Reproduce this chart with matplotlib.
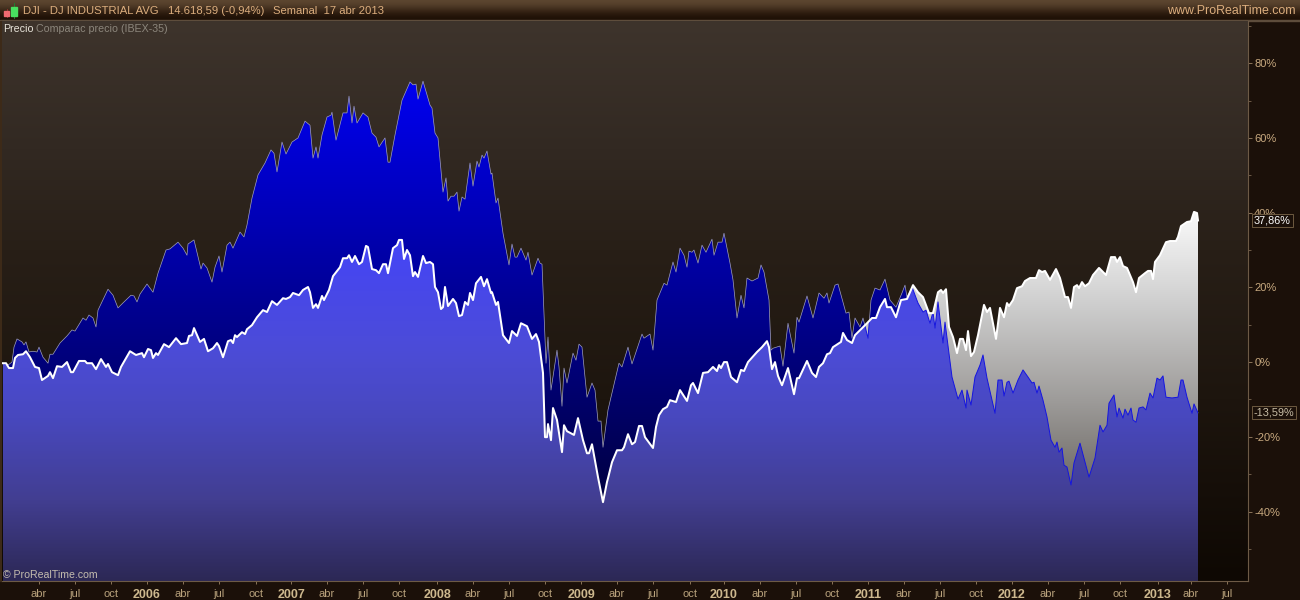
import numpy as np
import matplotlib
matplotlib.use("Agg")
import matplotlib.pyplot as plt
from matplotlib.patches import Polygon, Rectangle

plt.rcParams['font.family'] = ['Liberation Sans', 'DejaVu Sans']

# --- data: position along the weekly time axis, and % change ---
dji_t = [3,6,9,13,15,18,23,26,30,35,39,42,48,50,53,57,62,67,71,73,79,85,87,92,96,101,106,108,112,118,121,130,136,142,144,148,151,153,156,158,164,169,176,181,187,189,192,194,200,204,208,213,217,219,223,228,231,233,235,237,242,245,247,252,257,263,267,272,277,283,286,290,293,299,303,308,310,313,316,318,322,324,329,333,340,343,347,349,352,355,359,362,366,368,372,376,379,383,386,388,393,397,399,402,404,407,410,413,415,418,423,426,430,433,435,438,441,443,445,448,453,456,459,462,465,468,470,473,476,481,484,487,491,492,496,498,503,509,512,517,521,527,532,536,539,543,545,547,548,551,553,557,562,564,567,574,578,583,587,589,592,598,603,607,608,612,617,622,624,628,632,635,639,642,645,653,656,659,663,667,670,676,680,687,691,693,698,703,708,713,717,719,721,724,727,731,737,741,744,748,757,762,767,769,772,775,778,782,788,794,797,799,807,812,816,819,823,827,830,833,841,843,847,852,855,867,872,876,880,885,887,891,896,901,907,910,913,918,923,929,933,938,941,943,946,949,953,957,960,963,966,968,971,974,978,984,987,990,996,1000,1004,1007,1009,1013,1017,1022,1025,1030,1036,1039,1042,1045,1050,1056,1060,1065,1068,1071,1074,1077,1079,1082,1085,1089,1093,1099,1106,1111,1115,1117,1120,1123,1127,1133,1136,1139,1145,1148,1151,1153,1155,1160,1166,1170,1176,1178,1181,1187,1191,1194,1197,1198]
dji_pct = [-0.3,-0.3,-1.6,-1.6,1.1,1.9,2.1,2.9,1.3,-1.3,-1.6,-4.8,-3.7,-2.7,-4.3,-1.1,-1.3,0,-2.7,-2.7,0.3,0.3,-0.3,-0.3,-1.9,0.8,-1.3,-0.5,-2.7,-3.5,-1.3,2.9,1.9,2.4,1.3,3.5,3.2,1.1,2.4,1.9,4.8,4.0,6.4,4.8,5.1,7.0,7.2,9.1,5.4,6.2,2.9,3.7,5.1,4.3,1.3,5.6,5.9,5.1,7.2,6.7,8.0,7.5,8.8,9.9,12.0,13.9,13.4,16.3,15.3,17.1,16.9,17.4,18.5,17.9,19.3,20.1,18.7,14.5,15.5,14.5,17.7,16.6,19.3,23.0,25.4,27.8,27.8,28.6,26.8,28.4,26.2,26.8,31.1,30.8,24.9,24.6,23.8,26.2,26.2,23.8,30.5,31.3,32.7,32.7,27.6,30.0,28.6,23.0,24.1,22.8,28.4,26.5,26.8,26.2,20.1,18.7,14.2,14.7,20.1,15.0,16.9,15.8,12.3,12.6,16.1,15.3,18.5,16.6,21.1,22.8,20.3,22.2,18.5,18.7,15.3,16.1,7.2,5.1,8.3,7.0,10.4,9.6,6.2,7.5,5.4,-2.9,-20.1,-20.1,-16.6,-20.9,-12.3,-15.5,-24.1,-16.9,-18.5,-19.5,-15.0,-20.9,-24.4,-24.4,-22.0,-30.8,-37.5,-32.1,-31.1,-26.8,-23.6,-23.6,-22.8,-19.3,-22.0,-21.4,-17.1,-17.1,-20.1,-23.0,-17.4,-14.2,-12.6,-12.0,-10.2,-10.7,-7.5,-10.4,-6.2,-5.6,-8.3,-2.9,-2.7,-1.3,-2.4,-0.8,-1.6,0,0,-4.0,-5.4,-2.1,-2.4,0,2.7,4.0,5.6,4.0,-1.9,0,-3.7,-6.2,-1.6,-8.6,-4.3,-4.3,0.3,-2.9,-4.0,-1.3,-0.3,2.1,2.4,4.0,5.4,7.8,5.9,5.1,7.2,10.4,11.8,11.8,14.7,16.9,14.7,14.7,12.0,16.6,16.9,18.7,20.6,18.7,17.4,13.1,13.1,18.7,19.3,18.5,19.5,9.4,6.7,2.4,6.2,6.2,3.2,8.3,1.6,2.7,7.2,15.3,13.4,14.5,6.2,14.5,12.0,15.8,15.0,16.6,19.8,20.3,21.7,22.5,22.5,24.6,24.1,24.4,22.0,24.9,22.5,17.4,17.4,14.5,20.1,20.6,19.8,21.4,20.3,21.1,23.3,25.2,23.3,28.1,28.1,26.8,28.1,25.7,25.2,21.4,18.7,22.5,23.8,24.4,24.4,22.2,26.8,28.6,32.1,32.4,32.4,33.5,36.4,37.5,37.7,40.2,39.9,37.9]

ibex_t = [3,8,12,14,17,22,24,26,29,33,37,39,43,48,50,53,60,67,72,75,83,86,89,93,96,98,108,113,118,124,131,134,137,140,147,153,158,166,170,178,183,187,188,194,201,203,207,212,215,219,222,227,230,233,240,244,247,252,258,265,271,274,277,282,286,292,298,305,310,313,316,318,322,327,331,332,336,343,347,349,352,354,357,363,368,372,376,379,385,388,390,395,402,410,413,416,418,423,430,432,435,438,443,446,448,451,454,457,459,462,465,470,473,477,479,482,484,487,491,492,496,498,503,509,512,515,517,521,526,528,532,538,540,542,546,548,551,557,559,562,564,567,573,576,579,582,587,592,595,598,601,603,608,619,622,628,632,642,644,650,653,657,664,667,673,676,680,684,687,689,692,694,698,702,706,712,714,718,722,724,730,733,737,741,744,747,752,758,761,764,769,771,773,780,783,788,794,797,799,807,813,819,824,827,829,835,838,846,849,852,855,860,863,868,871,875,880,885,890,896,902,905,907,912,918,923,926,930,933,935,938,943,945,952,958,962,966,967,971,975,980,983,987,995,998,1002,1004,1007,1009,1013,1018,1023,1028,1032,1034,1037,1039,1043,1047,1051,1055,1057,1059,1062,1064,1067,1071,1074,1080,1085,1089,1095,1100,1103,1107,1109,1114,1117,1119,1123,1125,1128,1131,1133,1136,1139,1143,1146,1150,1153,1157,1160,1163,1166,1172,1178,1181,1183,1187,1192,1194,1198]
ibex_pct = [-0.3,-0.8,0,4.0,6.2,5.4,4.6,5.4,2.7,2.9,2.7,4.0,1.3,-0.3,2.1,2.1,5.1,7.0,8.6,8.3,11.8,11.2,12.6,11.8,9.4,13.9,19.5,17.9,14.5,16.1,17.9,17.7,16.1,18.2,20.9,18.7,23.8,30.0,30.3,32.1,30.5,28.6,31.6,32.7,24.9,26.5,25.2,21.4,25.4,28.4,24.1,31.3,32.1,30.5,34.8,33.5,36.7,43.9,50.1,53.3,56.8,55.9,50.9,58.9,55.7,58.9,60.0,64.5,63.4,54.6,57.6,54.6,60.8,65.6,66.1,66.9,59.4,66.7,66.7,71.2,64.0,68.5,64.0,66.7,65.6,61.3,60.2,57.6,60.0,53.5,53.5,60.8,70.1,75.0,74.2,74.4,70.4,75.2,68.8,68.0,61.3,60.0,45.5,49.3,43.1,44.4,44.4,45.5,40.4,44.2,43.6,53.3,47.1,53.8,52.2,55.4,54.6,56.5,50.3,50.6,42.6,43.9,34.5,26.0,31.6,28.1,28.1,30.5,27.3,29.4,23.3,27.8,26.5,26.2,-0.3,6.7,-7.5,3.2,-1.3,-11.8,-1.6,-5.6,2.4,0.5,4.8,4.0,-9.4,-5.6,-7.5,-15.8,-15.8,-22.8,-12.8,-0.3,-1.3,4.0,-0.5,7.5,6.4,7.5,3.2,16.6,21.1,20.6,26.8,24.1,30.5,28.6,25.4,29.7,29.4,30.0,26.5,31.3,29.4,32.9,28.6,32.1,32.1,34.5,26.5,22.0,11.8,17.9,14.5,22.5,21.7,22.5,26.0,24.1,16.6,3.2,3.7,4.3,-1.1,10.4,2.4,12.0,10.7,17.7,11.8,18.5,17.1,18.5,15.8,20.6,20.9,13.1,13.4,6.4,11.8,9.4,11.8,6.4,16.6,19.8,19.3,22.2,16.6,14.7,18.5,20.6,17.4,20.1,15.8,13.4,13.9,10.4,13.4,9.1,16.1,5.1,10.7,-4.0,-9.9,-7.5,-12.3,-7.5,-11.5,-4.0,-0.8,1.9,-4.3,-13.7,-4.8,-4.8,-9.1,-5.4,-5.1,-8.3,-4.8,-2.1,-4.0,-5.6,-5.4,-8.3,-6.4,-10.2,-14.7,-20.9,-22.8,-21.4,-24.1,-23.0,-27.6,-28.1,-32.9,-27.0,-21.7,-26.8,-30.8,-25.7,-16.9,-18.7,-16.9,-11.0,-8.8,-14.7,-12.3,-15.0,-12.6,-14.2,-12.3,-15.5,-16.1,-12.3,-12.0,-12.8,-8.3,-9.6,-4.3,-4.8,-3.7,-9.4,-9.6,-9.4,-4.8,-4.8,-9.4,-13.7,-11.2,-13.6]

dji_last = 37.86
ibex_last = -13.59

y_ticks = [80, 60, 40, 20, 0, -20, -40]
y_minor = [90, 70, 50, 30, 10, -10, -30, -50]
x_ticks = [39,75,111,147,183,219,256,291,327,363,399,437,473,509,545,581,617,653,690,724,760,796,832,868,904,940,976,1012,1048,1084,1120,1158,1191,1227]
x_labels = ['abr','jul','oct','2006','abr','jul','oct','2007','abr','jul','oct','2008','abr','jul','oct','2009','abr','jul','oct','2010','abr','jul','oct','2011','abr','jul','oct','2012','abr','jul','oct','2013','abr','jul']

X_MIN, X_MAX = 2, 1248
Y_MIN, Y_MAX = -58.6, 91.3


def gradient(stops):
    """stops: (% level, (r,g,b)) from top to bottom; returns an Nx1x3 image."""
    lv = np.linspace(Y_MAX, Y_MIN, 600)
    ys = [s[0] for s in stops][::-1]
    out = np.zeros((600, 1, 3))
    for i in range(3):
        out[:, 0, i] = np.interp(lv, ys, [s[1][i] for s in stops][::-1]) / 255
    return out


fig = plt.figure(figsize=(13, 6), dpi=100, facecolor='#1b1009')

# window chrome, in pixel coordinates
ch = fig.add_axes([0, 0, 1, 1], zorder=0)
ch.axis('off')
hdr = np.array([[0x5c, 0x46, 0x30], [0x48, 0x34, 0x22], [0x30, 0x1e, 0x10], [0x1e, 0x10, 0x06]])[:, None, :] / 255
ch.imshow(hdr, extent=(0, 1300, 20, 0), aspect='auto', interpolation='bicubic', zorder=1)
ch.set_xlim(0, 1300)
ch.set_ylim(600, 0)
ch.add_patch(Rectangle((0, 20), 1300, 1, color='#5e4d3c', zorder=2))
ch.add_patch(Rectangle((0, 21), 2, 560, color='#3d2a18', zorder=2))
# candle icon
ch.add_patch(Rectangle((4, 11), 5, 5, color='#f06a70', zorder=3))
ch.plot([6.5, 6.5], [9, 17], color='#a03030', lw=0.6, zorder=2.5)
ch.add_patch(Rectangle((11, 7), 6, 9, color='#48e060', zorder=3))
ch.plot([14, 14], [3, 18], color='#208030', lw=0.7, zorder=2.5)
hc = '#dcae7e'
ch.text(23, 11, 'DJI - DJ INDUSTRIAL AVG', color=hc, fontsize=8.1, va='center', zorder=4)
ch.text(168, 11, '14.618,59 (-0,94%)', color=hc, fontsize=8.1, va='center', zorder=4)
ch.text(273, 11, 'Semanal  17 abr 2013', color=hc, fontsize=8.1, va='center', zorder=4)
ch.text(1296, 11, 'www.ProRealTime.com', color=hc, fontsize=8.9, va='center', ha='right', zorder=4)

# main plot
ax = fig.add_axes([X_MIN / 1300, 19 / 600, (X_MAX - X_MIN) / 1300, 560 / 600], zorder=1)
ax.set_xlim(X_MIN, X_MAX)
ax.set_ylim(Y_MIN, Y_MAX)
ext = (X_MIN, X_MAX, Y_MIN, Y_MAX)

bg_stops = [(91.3, (62, 52, 44)), (57, (50, 41, 34)), (30, (40, 31, 23)), (-10, (29, 21, 14)), (-58.6, (14, 8, 3))]
ibex_stops = [(75, (0, 0, 240)), (-58.6, (0, 0, 30))]
dji_stops = [(40, (250, 250, 250)), (16.5, (208, 208, 208)), (-10, (158, 156, 154)), (-34, (108, 104, 100)), (-58.6, (70, 66, 62))]
both_stops = [(35, (68, 68, 250)), (3, (76, 76, 215)), (-15, (72, 72, 190)), (-37, (66, 62, 145)), (-58.6, (44, 40, 85))]

ax.imshow(gradient(bg_stops), extent=ext, aspect='auto', zorder=0, interpolation='bilinear')


def area(stops, t, v, z):
    poly = np.column_stack([np.r_[t[0], t, t[-1]], np.r_[Y_MIN, v, Y_MIN]])
    patch = Polygon(poly, closed=True, transform=ax.transData, fill=False, edgecolor='none')
    ax.add_patch(patch)
    im = ax.imshow(gradient(stops), extent=ext, aspect='auto', zorder=z, interpolation='bilinear')
    im.set_clip_path(patch)
    return patch


dt, dv = np.array(dji_t, float), np.array(dji_pct, float)
it, iv = np.array(ibex_t, float), np.array(ibex_pct, float)

area(ibex_stops, it, iv, 1)
ax.plot(it, iv, color='#a0a0bc', lw=0.5, zorder=1.5)
dji_patch = area(dji_stops, dt, dv, 2)

# part under both series
grid = np.union1d(np.union1d(dt, it), np.arange(3, 1198.5, 0.5))
low = np.minimum(np.interp(grid, dt, dv), np.interp(grid, it, iv))
area(both_stops, grid, low, 2.2)

ibex_on_dji, = ax.plot(it, iv, color='#1414e0', lw=0.7, zorder=2.3)
ibex_on_dji.set_clip_path(dji_patch)
ax.plot(dt, dv, color='white', lw=1.45, zorder=2.6, solid_joinstyle='round')

ax.set_xlim(X_MIN, X_MAX)
ax.set_ylim(Y_MIN, Y_MAX)

for side in ('left', 'top'):
    ax.spines[side].set_visible(False)
for side in ('right', 'bottom'):
    ax.spines[side].set_color('#6d5a46')
    ax.spines[side].set_linewidth(0.8)

ax.yaxis.tick_right()
ax.set_yticks(y_ticks)
ax.set_yticklabels([f'{v}%' for v in y_ticks])
ax.set_yticks(y_minor, minor=True)
ax.tick_params(axis='y', which='major', length=3, width=0.7, color='#8a7458', labelcolor='#c9aa80', labelsize=8, pad=1.5)
ax.tick_params(axis='y', which='minor', length=2, width=0.7, color='#6d5a46')
ax.set_xticks(x_ticks)
ax.set_xticklabels(x_labels)
ax.tick_params(axis='x', length=2, width=0.7, color='#8a7458', labelsize=8, pad=3.8)
for lab in ax.get_xticklabels():
    if lab.get_text().isdigit():
        lab.set_fontweight('bold')
        lab.set_fontsize(9)
        lab.set_color('#cdb88e')
    else:
        lab.set_color('#b9a27c')

ax.text(3, 89.2, 'Precio', color='#e8e4da', fontsize=7.7, va='center', zorder=5)
ax.text(36, 89.2, 'Comparac precio (IBEX-35)', color='#8c867c', fontsize=7.7, va='center', zorder=5)
ax.text(3, -58.4, '© ProRealTime.com', color='#c4bcae', fontsize=7.6, va='bottom', zorder=5)


def fmt(v):
    return f'{v:.2f}'.replace('.', ',') + '%'


box = dict(boxstyle='square,pad=0.15', facecolor='#1b1009', edgecolor='#6d5a40', linewidth=0.7)
ax.text(1254, dji_last, fmt(dji_last), color='white', fontsize=7.8, va='center', clip_on=False, bbox=box, zorder=6)
ax.text(1254, ibex_last, fmt(ibex_last), color='#c9bfa8', fontsize=7.8, va='center', clip_on=False, bbox=box, zorder=6)

fig.savefig('out.png', dpi=100, facecolor=fig.get_facecolor())
